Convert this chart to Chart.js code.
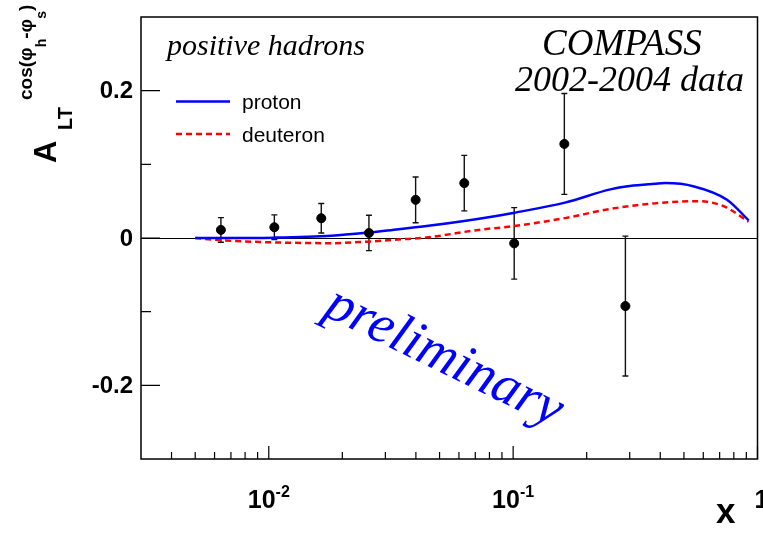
<!DOCTYPE html>
<html>
<head>
<meta charset="utf-8">
<script src="https://cdn.jsdelivr.net/npm/chart.js@4/dist/chart.umd.min.js"></script>
<style>
  html, body { margin: 0; padding: 0; background: #fff; }
  #wrap { width: 763px; height: 536px; }
</style>
</head>
<body>
<div id="wrap"><canvas id="chart" width="763" height="536"></canvas></div>
<script>
// measured points (x, asymmetry, stat. error)
const pointX = [0.00637, 0.01054, 0.0164, 0.0257, 0.0399, 0.0631, 0.101, 0.162, 0.288];
const pointY = [0.011, 0.0146, 0.0268, 0.0068, 0.0518, 0.0745, -0.0073, 0.1277, -0.0924];
const pointErr = [0.0167, 0.0168, 0.020, 0.024, 0.031, 0.0377, 0.0485, 0.0685, 0.095];

// model curves
const protonX = [0.005, 0.0063, 0.0105, 0.018, 0.025, 0.034, 0.045, 0.062, 0.084, 0.1, 0.163, 0.25, 0.30, 0.38, 0.42, 0.55, 0.75, 0.92];
const protonY = [0, 0, 0.0005, 0.003, 0.007, 0.012, 0.0165, 0.0227, 0.0295, 0.034, 0.048, 0.066, 0.0705, 0.0735, 0.0745, 0.070, 0.052, 0.024];
const deuteronX = [0.005, 0.0063, 0.0105, 0.018, 0.025, 0.034, 0.045, 0.072, 0.1, 0.163, 0.25, 0.38, 0.57, 0.73, 0.92];
const deuteronY = [0, -0.003, -0.006, -0.007, -0.005, -0.002, 0.001, 0.011, 0.016, 0.027, 0.0395, 0.047, 0.050, 0.043, 0.022];

// axes
const xMajorTicks = [0.01, 0.1, 1];
const xTickExp = ['-2', '-1', ''];
const yMajorTicks = [-0.2, 0, 0.2];
const yMinorTicks = [-0.1, 0.1];
const yTickLabels = ['-0.2', '0', '0.2'];

const SANS = '"Liberation Sans", Arial, sans-serif';
const SERIF = '"Liberation Serif", "Times New Roman", serif';

function toXY(xs, ys) {
  return xs.map((x, i) => ({ x, y: ys[i] }));
}

function xMinorTicks() {
  const out = [];
  for (let d = 0.001; d < 1; d *= 10) {
    for (let m = 2; m <= 9; m++) {
      const v = m * d;
      if (v > 0.003 && v < 1) out.push(v);
    }
  }
  return out;
}

const rootPlugin = {
  id: 'rootFrame',
  beforeDatasetsDraw(chart) {
    const { ctx, chartArea: a, scales: { x, y } } = chart;
    ctx.save();
    // zero line
    ctx.strokeStyle = '#000';
    ctx.lineWidth = 1;
    const y0 = Math.round(y.getPixelForValue(0)) + 0.5;
    ctx.beginPath();
    ctx.moveTo(a.left, y0);
    ctx.lineTo(a.right, y0);
    ctx.stroke();

    // error bars
    ctx.strokeStyle = '#111';
    ctx.lineWidth = 1.4;
    pointX.forEach((px, i) => {
      const xp = x.getPixelForValue(px);
      const yt = y.getPixelForValue(pointY[i] + pointErr[i]);
      const yb = y.getPixelForValue(pointY[i] - pointErr[i]);
      ctx.beginPath();
      ctx.moveTo(xp, yt);
      ctx.lineTo(xp, yb);
      ctx.moveTo(xp - 3, yt);
      ctx.lineTo(xp + 3, yt);
      ctx.moveTo(xp - 3, yb);
      ctx.lineTo(xp + 3, yb);
      ctx.stroke();
    });
    ctx.restore();
  },
  afterDatasetsDraw(chart) {
    const { ctx, chartArea: a, scales: { x, y } } = chart;
    ctx.save();
    // frame
    ctx.strokeStyle = '#000';
    ctx.lineWidth = 1.5;
    ctx.strokeRect(a.left, a.top, a.right - a.left, a.bottom - a.top);

    // x ticks (inside, from bottom)
    ctx.lineWidth = 1.2;
    ctx.beginPath();
    xMajorTicks.forEach((v) => {
      const p = x.getPixelForValue(v);
      ctx.moveTo(p, a.bottom);
      ctx.lineTo(p, a.bottom - 13);
    });
    xMinorTicks().forEach((v) => {
      const p = x.getPixelForValue(v);
      ctx.moveTo(p, a.bottom);
      ctx.lineTo(p, a.bottom - 7);
    });
    // y ticks (inside, from left)
    yMajorTicks.forEach((v) => {
      const p = y.getPixelForValue(v);
      ctx.moveTo(a.left, p);
      ctx.lineTo(a.left + 19, p);
    });
    yMinorTicks.forEach((v) => {
      const p = y.getPixelForValue(v);
      ctx.moveTo(a.left, p);
      ctx.lineTo(a.left + 10, p);
    });
    ctx.stroke();

    ctx.fillStyle = '#000';
    // y tick labels
    ctx.font = 'bold 24px ' + SANS;
    ctx.textAlign = 'right';
    ctx.textBaseline = 'middle';
    yMajorTicks.forEach((v, i) => {
      ctx.fillText(yTickLabels[i], 133, y.getPixelForValue(v) + 1);
    });

    // x tick labels 10^n
    ctx.textAlign = 'left';
    ctx.textBaseline = 'alphabetic';
    xMajorTicks.forEach((v, i) => {
      const last = i === xMajorTicks.length - 1;
      const base = last ? '1' : '10';
      ctx.font = 'bold 25px ' + SANS;
      const wb = ctx.measureText(base).width;
      ctx.font = 'bold 16px ' + SANS;
      const we = xTickExp[i] ? ctx.measureText(xTickExp[i]).width : 0;
      let start = x.getPixelForValue(v) - (wb + we) / 2;
      if (last) start += 4;
      ctx.font = 'bold 25px ' + SANS;
      ctx.fillText(base, start, 508);
      if (xTickExp[i]) {
        ctx.font = 'bold 16px ' + SANS;
        ctx.fillText(xTickExp[i], start + wb, 497);
      }
    });

    // x axis title
    ctx.font = 'bold 35px ' + SANS;
    ctx.fillText('x', 716, 523);

    // y axis title: A_LT^{cos(phi_h-phi_s)}
    ctx.save();
    ctx.translate(56, 163);
    ctx.rotate(-Math.PI / 2);
    ctx.font = 'bold 31px ' + SANS;
    ctx.fillText('A', 0, 0);
    ctx.font = 'bold 20px ' + SANS;
    ctx.fillText('LT', 33, 16);
    let u = 63;
    const parts = [
      ['cos(\u03c6', 19, -24],
      ['h', 14, -10],
      ['-\u03c6', 19, -24],
      ['s', 14, -10],
      [')', 19, -24],
    ];
    parts.forEach(([t, size, dy]) => {
      ctx.font = 'bold ' + size + 'px ' + SANS;
      ctx.fillText(t, u, dy);
      u += ctx.measureText(t).width;
    });
    ctx.restore();

    // annotations
    ctx.font = 'italic 30px ' + SERIF;
    ctx.fillText('positive hadrons', 167, 55);
    ctx.font = 'italic 37px ' + SERIF;
    ctx.fillText('COMPASS', 542, 55);
    ctx.font = 'italic 36px ' + SERIF;
    ctx.fillText('2002-2004 data', 515, 91);

    // legend
    ctx.lineWidth = 2.5;
    ctx.strokeStyle = '#0000ff';
    ctx.beginPath();
    ctx.moveTo(176, 101.5);
    ctx.lineTo(230, 101.5);
    ctx.stroke();
    ctx.strokeStyle = '#ff0000';
    ctx.setLineDash([6, 4]);
    ctx.beginPath();
    ctx.moveTo(176, 134);
    ctx.lineTo(230, 134);
    ctx.stroke();
    ctx.setLineDash([]);
    ctx.font = '21px ' + SANS;
    ctx.fillText('proton', 242, 109);
    ctx.fillText('deuteron', 242, 142);

    // preliminary stamp
    ctx.save();
    ctx.translate(444, 358);
    ctx.rotate(26 * Math.PI / 180);
    ctx.fillStyle = '#0000ff';
    ctx.font = 'italic 55px ' + SERIF;
    ctx.textAlign = 'center';
    ctx.textBaseline = 'middle';
    ctx.fillText('preliminary', 0, 0);
    ctx.restore();

    ctx.restore();
  },
};

new Chart(document.getElementById('chart'), {
  type: 'scatter',
  data: {
    datasets: [
      {
        label: 'data',
        data: toXY(pointX, pointY),
        pointRadius: 4.5,
        pointHoverRadius: 4.5,
        pointBackgroundColor: '#000',
        pointBorderColor: '#000',
        showLine: false,
      },
      {
        label: 'proton',
        data: toXY(protonX, protonY),
        showLine: true,
        borderColor: '#0000ff',
        borderWidth: 2.5,
        pointRadius: 0,
        cubicInterpolationMode: 'monotone',
        fill: false,
      },
      {
        label: 'deuteron',
        data: toXY(deuteronX, deuteronY),
        showLine: true,
        borderColor: '#ff0000',
        borderWidth: 2.5,
        borderDash: [6, 4],
        pointRadius: 0,
        cubicInterpolationMode: 'monotone',
        fill: false,
      },
    ],
  },
  options: {
    responsive: false,
    animation: false,
    events: [],
    layout: { padding: { left: 141, right: 3, top: 17, bottom: 77 } },
    plugins: {
      legend: { display: false },
      tooltip: { enabled: false },
    },
    scales: {
      x: {
        type: 'logarithmic',
        min: 0.003,
        max: 1,
        grid: { display: false, drawTicks: false },
        border: { display: false },
        ticks: { display: false },
      },
      y: {
        type: 'linear',
        min: -0.3,
        max: 0.3,
        grid: { display: false, drawTicks: false },
        border: { display: false },
        ticks: { display: false },
      },
    },
  },
  plugins: [rootPlugin],
});
</script>
</body>
</html>
